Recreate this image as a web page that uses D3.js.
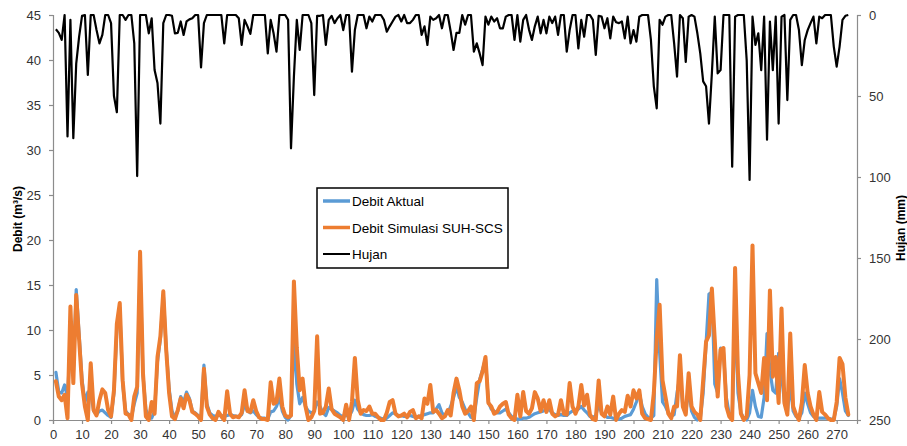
<!DOCTYPE html>
<html>
<head>
<meta charset="utf-8">
<script src="https://cdn.jsdelivr.net/npm/d3@7"></script>
<style>
    body { margin: 0; background: #fff; }
    text { font-family: "Liberation Sans", Arial, sans-serif; }
</style>
</head>
<body>
<svg id="chart" width="907" height="446"></svg>
<script>
// daily rainfall (mm), day 1..274
let hujan = [
    8.8, 11, 15.4, 0, 75, 3, 76, 30, 13.4, 0.5,
    0, 37, 0, 0, 9.3, 17.5, 12.3, 0, 0, 5,
    50, 60, 0, 0, 3, 0, 0, 17.5, 99.4, 0,
    0, 0, 11.3, 2, 34, 42, 67, 5, 0, 0,
    0.5, 11.3, 11, 4, 12.3, 4, 2.7, 2, 0, 0,
    32.3, 5, 0, 0, 0, 0, 0, 0, 17.5, 0,
    0, 0, 0, 2, 18.5, 3, 7, 11.7, 0, 0,
    0, 0, 0, 23.7, 3, 11.3, 22.6, 0, 0, 0,
    3, 82.3, 38, 3, 21.6, 0, 0, 0, 5, 49.4,
    0.5, 0.5, 0, 18.5, 3, 0.5, 5, 2, 0, 9.3,
    0, 0, 35, 9.3, 0, 0, 0, 8.2, 1, 4,
    0, 0, 0, 3, 10.3, 7, 4, 1, 0, 4,
    0, 5, 5, 3, 0, 0, 12.3, 7, 18.5, 1,
    3, 2, 0, 8.2, 0, 0, 10, 21.6, 11, 11,
    0, 6, 0, 0, 22.6, 17.5, 23.7, 30.9, 1, 6,
    1, 4, 2, 8.2, 8.2, 1, 0, 0, 15.4, 0,
    16.5, 3, 0, 9, 15.4, 7, 1, 11.3, 3, 11.3,
    1, 5, 1, 12.3, 0, 0, 22.6, 9.3, 0, 0,
    20.6, 3, 13.4, 0, 0, 3, 24.7, 0.5, 1, 8.2,
    2, 14.4, 1, 4.5, 5, 4, 14.4, 1, 17.5, 9.3,
    16.5, 1, 0, 0, 0, 15.4, 44, 57.6, 3, 6,
    1, 0, 0, 17.5, 38, 0, 2, 29, 1, 0,
    1, 11.3, 23.7, 41, 44, 67, 36, 1, 36, 34,
    0, 0, 0, 93.6, 1, 0, 0, 0, 28, 101.8,
    1, 18.5, 11.3, 34, 1, 77, 4, 34, 1, 67,
    1, 0, 52.5, 3, 0, 0, 9.3, 31, 15.4, 9.3,
    5, 1, 17.5, 1, 2, 0, 0, 0, 19.5, 31.9,
    19.5, 3, 0.5, 0
]

// observed discharge (m3/s)
let debitAktual = [
    5.3, 3.1, 3.0, 3.9, 2.5, 9.0, 5.0, 14.5, 9.5, 4.5,
    2.0, 3.1, 3.0, 1.0, 0.6, 1.0, 1.1, 0.8, 0.5, 0.3,
    3.0, 10.0, 12.5, 4.0, 1.0, 0.6, 0.3, 1.8, 3.0, 17.0,
    5.0, 1.2, 0.2, 0.2, 1.0, 6.5, 9.0, 14.0, 8.0, 3.5,
    1.0, 0.3, 1.0, 2.6, 2.0, 3.1, 2.4, 1.0, 0.8, 0.5,
    0.3, 6.1, 1.8, 0.8, 0.5, 0.4, 0.5, 0.5, 0.4, 0.5,
    0.6, 0.5, 0.4, 0.4, 0.6, 1.7, 1.0, 0.8, 1.0, 0.6,
    0.3, 0.2, 0.2, 0.1, 0.9, 1.0, 1.5, 2.5, 1.0, 0.3,
    0.0, 0.5, 9.0, 4.0, 1.8, 2.5, 1.5, 1.0, 0.8, 1.0,
    2.0, 1.5, 0.8, 0.5, 1.4, 1.2, 1.0, 0.8, 0.5, 0.4,
    0.5, 0.4, 1.0, 2.2, 1.2, 0.8, 0.6, 0.5, 0.5, 0.6,
    0.4, 0.3, 0.2, 0.1, 0.2, 0.5, 0.8, 0.7, 0.5, 0.5,
    0.4, 0.4, 0.5, 0.4, 0.3, 0.4, 0.5, 0.6, 0.7, 0.8,
    0.8, 1.2, 1.7, 0.8, 0.5, 0.8, 1.5, 2.5, 3.7, 2.5,
    2.0, 1.2, 0.8, 0.3, 0.2, 2.5, 4.5, 5.6, 6.8, 2.0,
    1.2, 1.0, 0.8, 0.8, 1.0, 1.2, 0.8, 0.4, 0.2, 0.1,
    0.1, 0.2, 0.2, 0.3, 0.5, 0.7, 0.8, 0.9, 1.0, 1.2,
    1.1, 0.8, 0.6, 0.5, 0.6, 0.5, 0.5, 0.8, 1.0, 1.0,
    1.2, 1.5, 1.1, 0.8, 0.4, 0.3, 0.5, 1.7, 0.8, 0.5,
    0.3, 0.3, 0.2, 0.1, 0.1, 0.2, 0.4, 0.5, 0.6, 1.2,
    2.0, 3.0, 1.5, 0.7, 0.3, 0.2, 0.5, 15.6, 7.5, 2.0,
    1.5, 0.8, 0.4, 0.6, 3.0, 5.0, 1.5, 0.8, 3.5, 1.0,
    0.3, 0.0, 0.2, 3.0, 8.5, 14.0, 14.2, 4.0, 3.0, 8.0,
    7.5, 2.5, 0.6, 0.2, 12.0, 3.0, 0.8, 0.2, 0.0, 0.8,
    3.3, 1.5, 0.4, 0.3, 2.5, 9.6, 5.5, 3.3, 3.0, 7.4,
    5.0, 2.0, 0.8, 4.0, 1.0, 0.4, 0.2, 0.8, 3.0, 1.8,
    0.8, 0.4, 0.2, 0.2, 0.2, 0.2, 0.2, 0.1, 0.1, 1.5,
    4.6, 3.0, 1.0, 0.5
]

// simulated discharge SUH-SCS (m3/s)
let debitSimulasi = [
    4.3, 2.6, 2.2, 2.8, 0.2, 12.6, 4.1, 13.9, 8.9, 4.0,
    1.5, 0.0, 6.3, 1.1, 0.5, 2.2, 3.4, 3.0, 1.1, 0.4,
    3.3, 10.7, 13.0, 4.4, 0.7, 0.6, 0.0, 2.6, 3.7, 18.7,
    5.2, 0.4, 0.0, 2.0, 0.7, 7.0, 9.3, 14.3, 7.8, 3.0,
    0.4, 0.1, 1.1, 2.4, 1.3, 2.8, 2.2, 0.9, 0.7, 0.4,
    0.0, 5.7, 1.5, 0.6, 0.2, 0.0, 0.9, 0.4, 0.0, 3.2,
    0.7, 0.3, 0.4, 0.3, 0.8, 3.3, 1.0, 0.9, 2.2, 1.0,
    0.3, 0.1, 0.1, 0.0, 4.2, 1.8, 2.0, 4.6, 1.5, 0.5,
    0.3, 0.5, 15.4, 8.0, 3.3, 4.6, 1.5, 0.0, 0.3, 1.0,
    9.3, 0.7, 0.8, 1.5, 3.5, 1.2, 0.7, 0.5, 0.3, 0.0,
    1.7, 0.0, 2.0, 6.9, 2.2, 0.7, 1.1, 1.0, 1.5, 0.7,
    0.7, 0.3, 0.0, 0.0, 0.8, 2.0, 2.2, 0.7, 0.4, 0.5,
    0.7, 0.3, 0.9, 1.1, 0.2, 0.4, 0.2, 2.4, 1.8, 3.9,
    0.9, 1.1, 0.7, 0.2, 0.4, 1.1, 0.5, 3.0, 4.6, 3.3,
    1.5, 0.7, 1.0, 1.5, 0.0, 4.1, 4.3, 5.4, 7.0, 1.9,
    1.5, 0.7, 0.9, 1.5, 1.8, 2.0, 0.6, 0.2, 0.0, 2.8,
    0.4, 3.1, 1.0, 0.7, 1.3, 3.1, 2.4, 1.0, 2.2, 0.9,
    2.2, 0.7, 0.4, 0.6, 2.2, 0.7, 0.6, 4.1, 1.5, 0.7,
    1.5, 3.9, 1.6, 2.8, 0.6, 0.1, 0.0, 4.4, 0.7, 0.4,
    1.5, 0.6, 2.6, 0.0, 0.7, 1.1, 0.9, 2.7, 1.5, 3.3,
    2.4, 3.3, 0.7, 0.2, 0.1, 0.0, 3.0, 9.0, 12.8, 4.4,
    2.6, 0.7, 0.2, 1.5, 1.5, 7.2, 1.5, 0.6, 5.2, 1.5,
    0.9, 0.6, 0.0, 4.4, 8.7, 9.4, 14.6, 8.9, 2.6, 7.8,
    8.0, 1.5, 0.4, 0.0, 16.9, 5.2, 0.7, 0.0, 0.4, 5.0,
    19.4, 5.2, 4.1, 3.0, 6.9, 2.2, 14.4, 4.8, 7.0, 1.9,
    12.4, 1.9, 0.6, 9.6, 1.5, 0.6, 0.0, 1.9, 6.1, 3.0,
    1.5, 0.6, 0.0, 3.1, 0.9, 0.6, 0.2, 0.0, 0.0, 2.0,
    6.9, 6.2, 2.5, 0.6
]

let xTicks = d3.range(0, 271, 10)
let debitTicks = [0, 5, 10, 15, 20, 25, 30, 35, 40, 45]
let hujanTicks = [0, 50, 100, 150, 200, 250]
let legendLabels = ["Debit Aktual", "Debit Simulasi SUH-SCS", "Hujan"]
let seriesColors = ["#5b9bd5", "#ed7d31", "#000000"]

function drawChart() {
    let svg = d3.select("#chart")
    let left = 53, right = 857, top = 15, bottom = 420
    let axisColor = "#8c8c8c", labelColor = "#333"

    let xScale = d3.scaleLinear().domain([0, 277]).range([left, right])
    let yDebit = d3.scaleLinear().domain([0, 45]).range([bottom, top])
    let yHujan = d3.scaleLinear().domain([0, 250]).range([top, bottom]) // reversed

    // axes
    let xAxis = svg.append("g").attr("transform", "translate(0," + bottom + ")")
        .call(d3.axisBottom(xScale).tickValues(xTicks).tickSize(4).tickPadding(6))
    let yAxisL = svg.append("g").attr("transform", "translate(" + left + ",0)")
        .call(d3.axisLeft(yDebit).tickValues(debitTicks).tickSize(4).tickPadding(8))
    let yAxisR = svg.append("g").attr("transform", "translate(" + right + ",0)")
        .call(d3.axisRight(yHujan).tickValues(hujanTicks).tickSize(4).tickPadding(8))

    for (let ax of [xAxis, yAxisL, yAxisR]) {
        ax.select(".domain").attr("stroke", axisColor).attr("stroke-width", 1.2)
        ax.selectAll(".tick line").attr("stroke", axisColor).attr("stroke-width", 1.2)
        ax.selectAll(".tick text").attr("fill", labelColor)
            .style("font-family", '"Liberation Sans", Arial, sans-serif').style("font-size", "13px")
    }

    // series lines
    let days = d3.range(1, hujan.length + 1)
    let lineDebit = d3.line()
        .x(function (d, i) { return xScale(days[i]) })
        .y(function (d) { return yDebit(d) })
    let lineHujan = d3.line()
        .x(function (d, i) { return xScale(days[i]) })
        .y(function (d) { return yHujan(d) })

    svg.append("path").datum(debitAktual)
        .attr("d", lineDebit).attr("fill", "none")
        .attr("stroke", seriesColors[0]).attr("stroke-width", 3.2)
        .attr("stroke-linejoin", "round").attr("stroke-linecap", "round")
    svg.append("path").datum(debitSimulasi)
        .attr("d", lineDebit).attr("fill", "none")
        .attr("stroke", seriesColors[1]).attr("stroke-width", 4)
        .attr("stroke-linejoin", "round").attr("stroke-linecap", "round")
    svg.append("path").datum(hujan)
        .attr("d", lineHujan).attr("fill", "none")
        .attr("stroke", seriesColors[2]).attr("stroke-width", 2.2)
        .attr("stroke-linejoin", "round")

    // axis titles
    svg.append("text")
        .attr("transform", "translate(22,219) rotate(-90)")
        .attr("text-anchor", "middle")
        .style("font-size", "12px").style("font-weight", "bold")
        .text("Debit (m³/s)")
    svg.append("text")
        .attr("transform", "translate(905,228) rotate(-90)")
        .attr("text-anchor", "middle")
        .style("font-size", "12px").style("font-weight", "bold")
        .text("Hujan (mm)")

    // legend
    let legend = svg.append("g").attr("transform", "translate(317,188)")
    legend.append("rect").attr("width", 191).attr("height", 80)
        .attr("fill", "#fff").attr("stroke", "#000").attr("stroke-width", 1.5)
    legendLabels.forEach(function (label, i) {
        let y = 13 + i * 26.5
        legend.append("line").attr("x1", 6).attr("x2", 33).attr("y1", y).attr("y2", y)
            .attr("stroke", seriesColors[i]).attr("stroke-width", i == 2 ? 2 : 3.5)
        legend.append("text").attr("x", 35).attr("y", y + 5)
            .style("font-size", "13.5px").attr("fill", "#000")
            .text(label)
    })
}

drawChart()
</script>
</body>
</html>
